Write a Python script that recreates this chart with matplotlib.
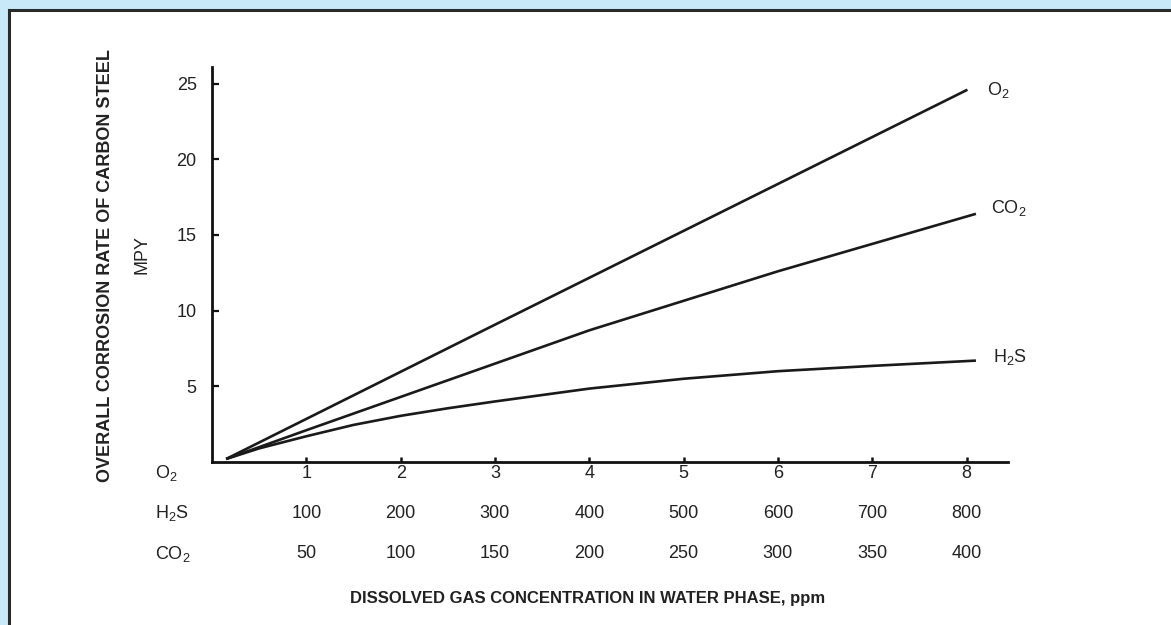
import matplotlib
matplotlib.use("Agg")
from matplotlib import pyplot as plt
import matplotlib.patches as mpatches
import matplotlib.transforms as mtransforms

plt.rcParams['font.family'] = ['Liberation Sans', 'DejaVu Sans']

# curves (x in O2 ppm units, y in MPY)
o2X = [0.15, 2.88, 8.01]
o2Y = [0.2, 8.7, 24.6]
co2X = [0.15, 1, 2, 4, 6, 8.1]
co2Y = [0.2, 2.1, 4.3, 8.7, 12.6, 16.4]
h2sX = [0.15, 0.5, 1, 1.5, 2, 2.5, 3, 4, 5, 6, 7, 8.1]
h2sY = [0.2, 0.9, 1.7, 2.45, 3.05, 3.55, 4.0, 4.85, 5.5, 6.0, 6.35, 6.7]

xTicks = [1, 2, 3, 4, 5, 6, 7, 8]
yTicks = [5, 10, 15, 20, 25]
h2sTickLabels = ['100', '200', '300', '400', '500', '600', '700', '800']
co2TickLabels = ['50', '100', '150', '200', '250', '300', '350', '400']

rowNames = [r'$\mathregular{O_2}$', r'$\mathregular{H_2S}$', r'$\mathregular{CO_2}$']
curveNames = [r'$\mathregular{O_2}$', r'$\mathregular{CO_2}$', r'$\mathregular{H_2S}$']

W, H = 1171, 625
fig = plt.figure(figsize=(W / 100, H / 100), dpi=100)
fig.patch.set_facecolor('#c7e9f8')

# white panel with dark frame on top/left
panel = mpatches.Rectangle((8.5 / W, -0.1), 1.2, 1 - 9.5 / H + 0.1, transform=fig.transFigure,
                           facecolor='white', edgecolor='#2a2a2a', linewidth=2.2, zorder=-5)
fig.add_artist(panel)

ax = fig.add_axes([212 / W, 1 - 462 / H, (1008 - 212) / W, (462 - 67) / H])
ax.set_zorder(2)
ax.set_facecolor('none')
ax.set_xlim(0, 8.44)
ax.set_ylim(0, 26.1)

lineColor = '#1a1a1a'
ax.plot(o2X, o2Y, color=lineColor, lw=1.9, solid_capstyle='butt')
ax.plot(co2X, co2Y, color=lineColor, lw=1.9, solid_capstyle='butt')
ax.plot(h2sX, h2sY, color=lineColor, lw=1.9, solid_capstyle='butt')

txt = '#222222'
ax.annotate(curveNames[0], (o2X[-1], o2Y[-1]), xytext=(20, 0), textcoords='offset pixels',
            va='center', ha='left', fontsize=13, color=txt)
ax.annotate(curveNames[1], (co2X[-1], co2Y[-1]), xytext=(15, 6), textcoords='offset pixels',
            va='center', ha='left', fontsize=13, color=txt)
ax.annotate(curveNames[2], (h2sX[-1], h2sY[-1]), xytext=(17, 4), textcoords='offset pixels',
            va='center', ha='left', fontsize=13, color=txt)

for side in ['top', 'right']:
    ax.spines[side].set_visible(False)
for side in ['left', 'bottom']:
    ax.spines[side].set_linewidth(2.0)
    ax.spines[side].set_color('#111111')

ax.set_yticks(yTicks)
ax.set_yticklabels([str(v) for v in yTicks])
ax.tick_params(axis='y', direction='in', length=5, width=1.6, pad=11, labelsize=13,
               labelcolor=txt, color='#111111')
ax.set_xticks(xTicks)
ax.set_xticklabels([])
ax.tick_params(axis='x', direction='in', length=3.5, width=1.8, color='#111111')

# three rows of x labels under the axis
trans = mtransforms.blended_transform_factory(ax.transData, fig.transFigure)
rowsY = [1 - 473 / H, 1 - 513 / H, 1 - 554 / H]
rowsLabels = [[str(v) for v in xTicks], h2sTickLabels, co2TickLabels]
for rowY, labels in zip(rowsY, rowsLabels):
    for xv, lab in zip(xTicks, labels):
        ax.text(xv, rowY, lab, transform=trans, ha='center', va='center', fontsize=13,
                color=txt, clip_on=False)
for rowY, name in zip(rowsY, rowNames):
    fig.text(155 / W, rowY, name, ha='left', va='center', fontsize=13, color=txt)

fig.text(106 / W, 1 - 266 / H, 'OVERALL CORROSION RATE OF CARBON STEEL', rotation=90,
         ha='center', va='center', fontsize=13, fontweight='bold', color=txt)
fig.text(142 / W, 1 - 254 / H, 'MPY', rotation=90, ha='center', va='center', fontsize=13, color=txt)
fig.text(588 / W, 1 - 599 / H, 'DISSOLVED GAS CONCENTRATION IN WATER PHASE, ppm',
         ha='center', va='center', fontsize=12, fontweight='bold', color=txt)

fig.savefig('out.png', dpi=100, facecolor=fig.get_facecolor())
